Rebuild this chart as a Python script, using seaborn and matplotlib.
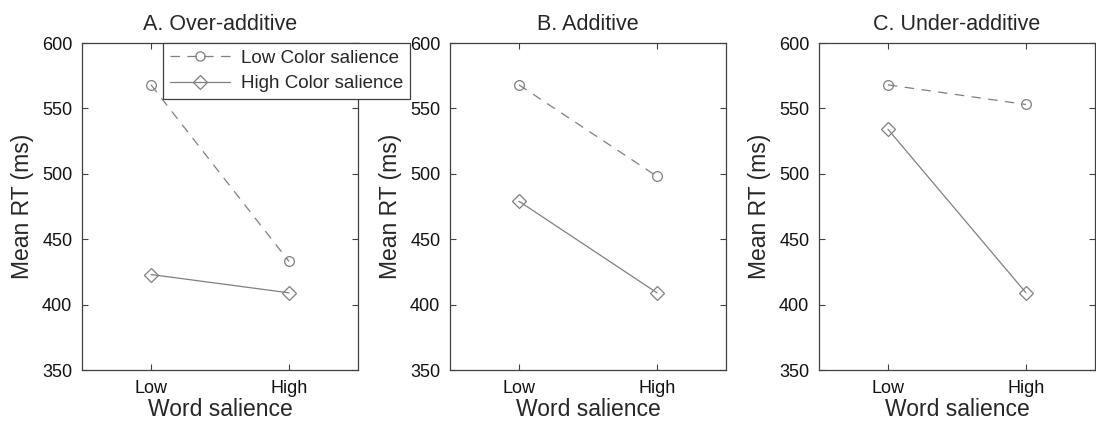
import matplotlib
matplotlib.use("Agg")
import matplotlib.pyplot as plt
import seaborn as sns
import pandas as pd

word_levels = ["Low", "High"]
series_names = ["Low Color salience", "High Color salience"]
panel_titles = ["A. Over-additive", "B. Additive", "C. Under-additive"]
low_color_vals = [[568, 433], [568, 498], [568, 553]]
high_color_vals = [[423, 409], [479, 409], [534, 409]]
y_ticks = [350, 400, 450, 500, 550, 600]

sns.set_theme(style="white")
plt.rcParams['font.family'] = ['Liberation Sans', 'DejaVu Sans']

fig = plt.figure(figsize=(10.96, 4.29), dpi=100)
W, H = 1096, 429
lefts = [82, 450, 819]
axw = 276
top, bot = 43, 370

line_col = "#7f7f7f"
axis_col = "#404040"

for i in range(3):
    ax = fig.add_axes([lefts[i] / W, (H - bot) / H, axw / W, (bot - top) / H])
    rows = []
    for s, vals in zip(series_names, [low_color_vals[i], high_color_vals[i]]):
        for j, (w, v) in enumerate(zip(word_levels, vals)):
            rows.append({"x": j + 1, "word": w, "RT": v, "series": s})
    df = pd.DataFrame(rows)
    sns.lineplot(data=df, x="x", y="RT", style="series",
                 style_order=series_names,
                 markers={series_names[0]: "o", series_names[1]: "D"},
                 dashes={series_names[0]: (7.5, 6), series_names[1]: ""},
                 color=line_col, lw=0.9, markersize=7, mfc="none",
                 mec=line_col, mew=0.9, ax=ax, legend=(i == 0))
    ax.set_xlim(0.5, 2.5)
    ax.set_ylim(350, 600)
    ax.set_xticks([1, 2])
    ax.set_xticklabels(word_levels)
    ax.set_yticks(y_ticks)
    ax.tick_params(direction="in", length=4.5, width=0.8, color=axis_col,
                   labelsize=13, top=True, right=True, left=True, bottom=True,
                   labelcolor="#111111", pad=7)
    for sp in ax.spines.values():
        sp.set_color(axis_col)
        sp.set_linewidth(0.9)
    ax.set_xlabel("Word salience", fontsize=16.5, labelpad=1)
    ax.set_ylabel("Mean RT (ms)", fontsize=16.5, labelpad=6)
    ax.set_title(panel_titles[i], fontsize=15.5, pad=9)
    if i == 0:
        leg = ax.legend(loc="upper left", bbox_to_anchor=((163 - 82) / axw, 1.0),
                        fontsize=13.5, frameon=True, fancybox=False,
                        edgecolor=axis_col, framealpha=1, borderpad=0.35,
                        handlelength=3.2, handletextpad=0.6, labelspacing=0.45,
                        borderaxespad=0, markerscale=0.95)
        leg.get_frame().set_linewidth(0.9)
        leg.set_zorder(10)

fig.savefig("out.png", dpi=100)
